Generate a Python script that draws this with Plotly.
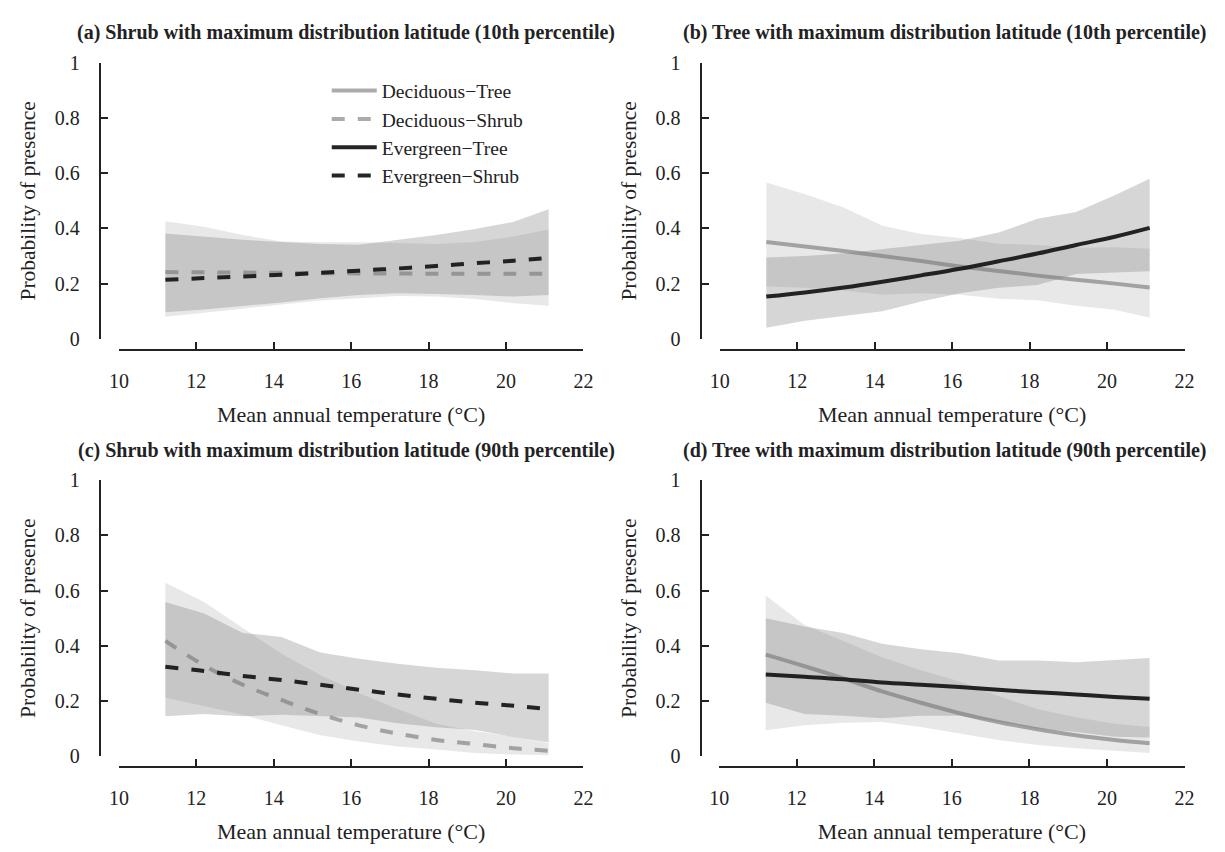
import plotly.graph_objects as go

# ---------------- data ----------------
temp = [11.2, 12.2, 13.2, 14.2, 15.2, 16.2, 17.2, 18.2, 19.2, 20.2, 21.1]
x_ticks = [10, 12, 14, 16, 18, 20, 22]
y_ticks = [0, 0.2, 0.4, 0.6, 0.8, 1]

series_names = ["Deciduous−Tree", "Deciduous−Shrub", "Evergreen−Tree", "Evergreen−Shrub"]
panel_titles = [
    "(a) Shrub with maximum distribution latitude (10th percentile)",
    "(b) Tree with maximum distribution latitude (10th percentile)",
    "(c) Shrub with maximum distribution latitude (90th percentile)",
    "(d) Tree with maximum distribution latitude (90th percentile)",
]

# (a) shrubs, 10th percentile
a_dec_line = [0.242, 0.241, 0.240, 0.239, 0.238, 0.237, 0.237, 0.236, 0.236, 0.236, 0.236]
a_dec_up = [0.426, 0.406, 0.376, 0.353, 0.350, 0.350, 0.347, 0.344, 0.351, 0.371, 0.396]
a_dec_lo = [0.080, 0.094, 0.108, 0.124, 0.139, 0.147, 0.155, 0.153, 0.144, 0.129, 0.120]
a_ev_line = [0.214, 0.220, 0.226, 0.232, 0.239, 0.247, 0.255, 0.264, 0.274, 0.283, 0.293]
a_ev_up = [0.382, 0.371, 0.359, 0.351, 0.344, 0.341, 0.359, 0.376, 0.398, 0.424, 0.470]
a_ev_lo = [0.096, 0.106, 0.118, 0.132, 0.147, 0.159, 0.165, 0.162, 0.159, 0.153, 0.159]

# (b) trees, 10th percentile
b_dec_line = [0.351, 0.335, 0.318, 0.300, 0.282, 0.262, 0.246, 0.229, 0.214, 0.200, 0.186]
b_dec_up = [0.567, 0.524, 0.476, 0.410, 0.380, 0.365, 0.345, 0.340, 0.330, 0.332, 0.326]
b_dec_lo = [0.190, 0.185, 0.175, 0.160, 0.165, 0.160, 0.145, 0.140, 0.120, 0.105, 0.076]
b_ev_line = [0.153, 0.168, 0.186, 0.207, 0.230, 0.254, 0.281, 0.309, 0.340, 0.370, 0.402]
b_ev_up = [0.295, 0.300, 0.310, 0.325, 0.340, 0.355, 0.385, 0.435, 0.460, 0.520, 0.580]
b_ev_lo = [0.040, 0.065, 0.082, 0.100, 0.135, 0.165, 0.185, 0.195, 0.235, 0.240, 0.245]

# (c) shrubs, 90th percentile
c_dec_line = [0.418, 0.329, 0.259, 0.204, 0.153, 0.112, 0.082, 0.059, 0.044, 0.029, 0.020]
c_dec_up = [0.629, 0.559, 0.465, 0.371, 0.294, 0.229, 0.171, 0.118, 0.091, 0.071, 0.047]
c_dec_lo = [0.212, 0.182, 0.150, 0.112, 0.076, 0.053, 0.035, 0.024, 0.012, 0.006, 0.004]
c_ev_line = [0.324, 0.309, 0.291, 0.276, 0.259, 0.241, 0.224, 0.208, 0.194, 0.183, 0.171]
c_ev_up = [0.559, 0.517, 0.447, 0.432, 0.376, 0.353, 0.335, 0.321, 0.312, 0.300, 0.300]
c_ev_lo = [0.145, 0.153, 0.145, 0.150, 0.145, 0.140, 0.120, 0.105, 0.095, 0.070, 0.050]

# (d) trees, 90th percentile
d_dec_line = [0.368, 0.326, 0.282, 0.235, 0.194, 0.156, 0.124, 0.098, 0.076, 0.059, 0.047]
d_dec_up = [0.582, 0.476, 0.418, 0.359, 0.312, 0.271, 0.218, 0.171, 0.141, 0.118, 0.106]
d_dec_lo = [0.094, 0.112, 0.121, 0.124, 0.106, 0.082, 0.059, 0.041, 0.029, 0.020, 0.012]
d_ev_line = [0.296, 0.288, 0.279, 0.267, 0.259, 0.251, 0.241, 0.232, 0.224, 0.215, 0.208]
d_ev_up = [0.500, 0.470, 0.447, 0.408, 0.388, 0.373, 0.347, 0.347, 0.341, 0.349, 0.356]
d_ev_lo = [0.194, 0.153, 0.147, 0.138, 0.147, 0.147, 0.124, 0.100, 0.088, 0.071, 0.068]

# ---------------- styling ----------------
W, H = 1225, 852
FONT = "Liberation Serif, Times New Roman, serif"
INK = "#222222"
DEC_BAND = "rgba(128,128,128,0.18)"
EV_BAND = "rgba(128,128,128,0.32)"
DEC_LINE = "rgba(120,120,120,0.62)"
EV_LINE = "rgba(25,25,25,0.95)"
DASH = "13px,13px"


def px_x(p):
    return p / W


def px_y(p):
    return 1 - p / H


# panel geometry (pixels): x-range 10..22, y-range 0..1
panels = [
    dict(x0=110.7, x1=583.0, ytop=53.3, ybot=336.5, yaxis_x=92.0, xaxis_y=348.0),
    dict(x0=721.6, x1=1194.0, ytop=53.3, ybot=336.5, yaxis_x=702.8, xaxis_y=348.0),
    dict(x0=110.7, x1=583.0, ytop=481.7, ybot=765.0, yaxis_x=92.0, xaxis_y=776.0),
    dict(x0=721.0, x1=1194.0, ytop=481.7, ybot=765.0, yaxis_x=702.8, xaxis_y=776.0),
]

panel_data = [
    ("Shrub", a_dec_line, a_dec_up, a_dec_lo, a_ev_line, a_ev_up, a_ev_lo),
    ("Tree", b_dec_line, b_dec_up, b_dec_lo, b_ev_line, b_ev_up, b_ev_lo),
    ("Shrub", c_dec_line, c_dec_up, c_dec_lo, c_ev_line, c_ev_up, c_ev_lo),
    ("Tree", d_dec_line, d_dec_up, d_dec_lo, d_ev_line, d_ev_up, d_ev_lo),
]

legend_rank = {"Deciduous−Tree": 1, "Deciduous−Shrub": 2, "Evergreen−Tree": 3, "Evergreen−Shrub": 4}
legend_panel = {"Deciduous−Tree": 1, "Deciduous−Shrub": 0, "Evergreen−Tree": 1, "Evergreen−Shrub": 0}

fig = go.Figure()

for i, (form, dl, du, dlo, el, eu, elo) in enumerate(panel_data):
    xa = "x" if i == 0 else f"x{i + 1}"
    ya = "y" if i == 0 else f"y{i + 1}"
    dash = "solid" if form == "Tree" else DASH
    for up, lo, col in ((du, dlo, DEC_BAND), (eu, elo, EV_BAND)):
        fig.add_trace(go.Scatter(
            x=temp + temp[::-1], y=up + lo[::-1], xaxis=xa, yaxis=ya,
            fill="toself", fillcolor=col, mode="lines", line=dict(width=0),
            showlegend=False, hoverinfo="skip"))
    for name_pref, vals, col in (("Deciduous", dl, DEC_LINE), ("Evergreen", el, EV_LINE)):
        name = f"{name_pref}−{form}"
        fig.add_trace(go.Scatter(
            x=temp, y=vals, xaxis=xa, yaxis=ya, mode="lines", name=name,
            line=dict(color=col, width=4, dash=dash, shape="spline"),
            showlegend=(legend_panel[name] == i), legendrank=legend_rank[name]))

layout = dict(
    width=W, height=H, margin=dict(l=0, r=0, t=0, b=0),
    paper_bgcolor="white", plot_bgcolor="white",
    font=dict(family=FONT, color=INK, size=20),
    legend=dict(x=px_x(322), y=px_y(62), xanchor="left", yanchor="top",
                bgcolor="rgba(0,0,0,0)", font=dict(family=FONT, size=19.5, color=INK),
                traceorder="normal", itemwidth=45),
    annotations=[],
)

common_ax = dict(showline=True, linecolor=INK, linewidth=1.5, ticks="inside", ticklen=7,
                 tickwidth=1.5, tickcolor=INK, showgrid=False, zeroline=False,
                 tickfont=dict(family=FONT, size=20, color=INK))

for i, g in enumerate(panels):
    xk = "xaxis" if i == 0 else f"xaxis{i + 1}"
    yk = "yaxis" if i == 0 else f"yaxis{i + 1}"
    layout[xk] = dict(common_ax, domain=[px_x(g["x0"]), px_x(g["x1"])], range=[10, 22],
                      tickvals=x_ticks, anchor="free", position=px_y(g["xaxis_y"]),
                      ticklabelstandoff=13,
                      title=dict(text="Mean annual temperature (°C)", standoff=15,
                                 font=dict(family=FONT, size=22, color=INK)))
    layout[yk] = dict(common_ax, domain=[px_y(g["ybot"]), px_y(g["ytop"])], range=[0, 1],
                      tickvals=y_ticks, ticktext=[f"{v:g}" for v in y_ticks],
                      anchor="free", position=px_x(g["yaxis_x"]),
                      ticklabelstandoff=16,
                      title=dict(text="Probability of presence", standoff=12,
                                 font=dict(family=FONT, size=21.5, color=INK)))
    cx = (g["x0"] + g["x1"]) / 2 - 5 if i % 2 == 0 else (g["x0"] + g["x1"]) / 2 - 7
    layout["annotations"].append(dict(
        text=f"<b>{panel_titles[i]}</b>", xref="paper", yref="paper",
        x=px_x(cx), y=px_y(g["ytop"] - 31), xanchor="center", yanchor="middle",
        showarrow=False, font=dict(family=FONT, size=20, color=INK)))

fig.update_layout(**layout)
fig.write_html("out.html", config={"displayModeBar": False},
               post_script="document.body.style.margin='0';document.body.style.overflow='hidden';")
